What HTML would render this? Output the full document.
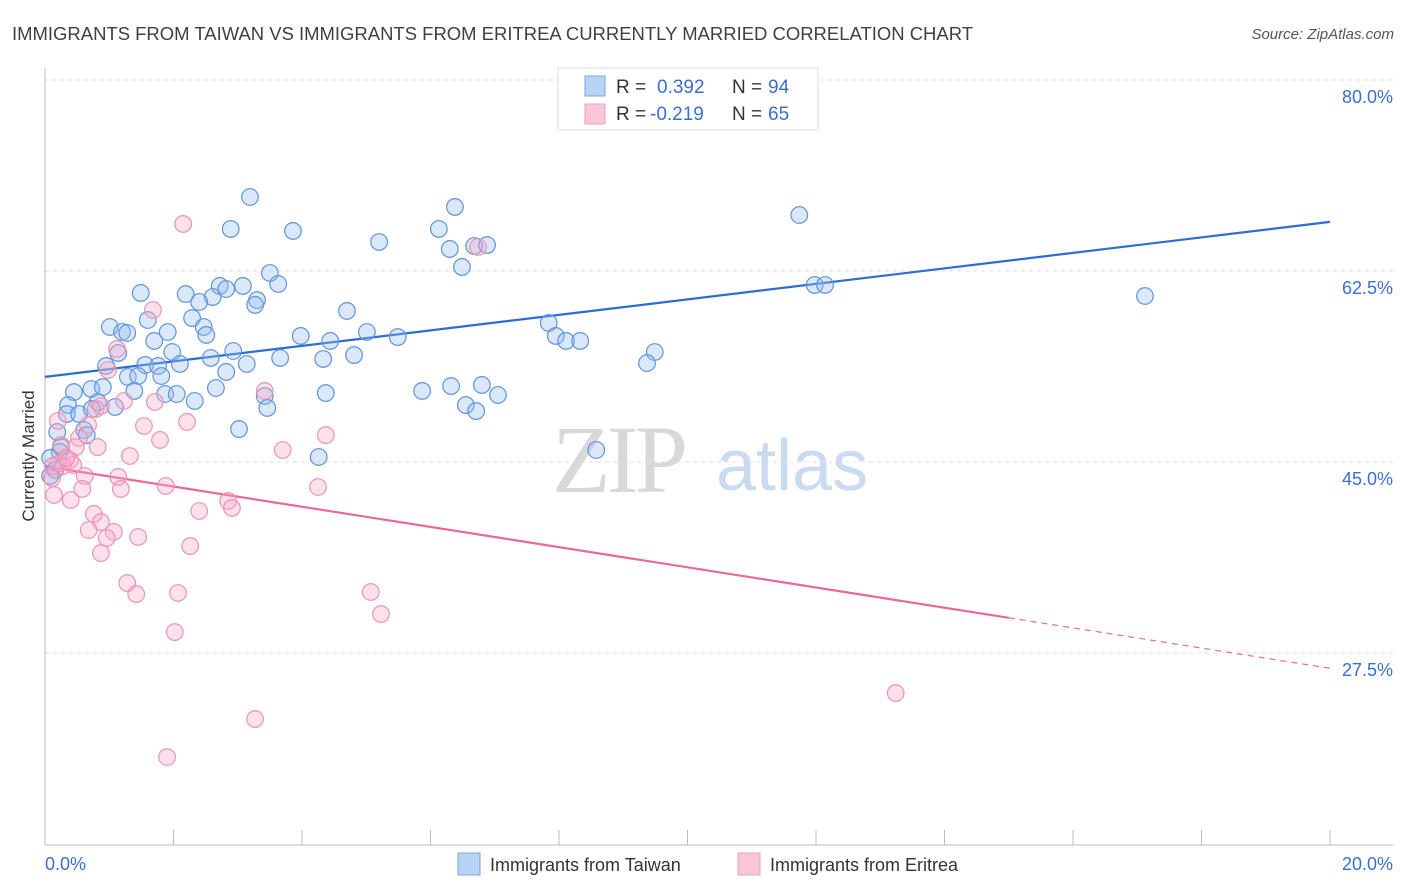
<!DOCTYPE html>
<html><head><meta charset="utf-8"><style>
html,body{margin:0;padding:0;background:#fff;width:1406px;height:892px;overflow:hidden;font-family:"Liberation Sans",sans-serif;}
</style></head><body>
<svg id="chart" width="1406" height="892" xmlns="http://www.w3.org/2000/svg" font-family="Liberation Sans, sans-serif">
<text x="12" y="40" font-size="18" fill="#404040" textLength="961" lengthAdjust="spacingAndGlyphs">IMMIGRANTS FROM TAIWAN VS IMMIGRANTS FROM ERITREA CURRENTLY MARRIED CORRELATION CHART</text>
<text x="1394" y="39" font-size="15" fill="#555" font-style="italic" text-anchor="end">Source: ZipAtlas.com</text>
<g>
<text x="552" y="492" font-size="96" font-family="Liberation Serif, serif" fill="#d8d8d8" letter-spacing="-4">ZIP</text>
<text x="716" y="490" font-size="72" fill="#c9daf1">atlas</text>
</g>
<g id="grid"></g>
<g id="axes"></g>
<g id="lines"></g>
<g id="pts"></g>
<text transform="translate(34,456) rotate(-90)" font-size="17" fill="#333" text-anchor="middle">Currently Married</text>
<g>
<rect x="558" y="68" width="260" height="62" fill="#fff" stroke="#ddd"/>
<rect x="585" y="76" width="20" height="20" fill="#b9d3f5" stroke="#7aa5e0"/>
<rect x="585" y="104" width="20" height="20" fill="#f9c6d6" stroke="#eda0ba"/>
<text x="616" y="93" font-size="19" fill="#333">R =</text>
<text x="657" y="93" font-size="19" fill="#3a6fd0">0.392</text>
<text x="732" y="93" font-size="19" fill="#333">N =</text>
<text x="768" y="93" font-size="19" fill="#3a6fd0">94</text>
<text x="616" y="120" font-size="19" fill="#333">R =</text>
<text x="650" y="120" font-size="19" fill="#3a6fd0">-0.219</text>
<text x="732" y="120" font-size="19" fill="#333">N =</text>
<text x="768" y="120" font-size="19" fill="#3a6fd0">65</text>
</g>
<g>
<rect x="458" y="853" width="22" height="22" fill="#b9d3f5" stroke="#7aa5e0"/>
<text x="490" y="871" font-size="18" fill="#333">Immigrants from Taiwan</text>
<rect x="738" y="853" width="22" height="22" fill="#f9c6d6" stroke="#eda0ba"/>
<text x="770" y="871" font-size="18" fill="#333">Immigrants from Eritrea</text>
</g>
</svg>
<script>
const yTicks=[80,62.5,45,27.5];
const xTickLabels=["0.0%","20.0%"];
const blueX=[3.19,6.38,2.89,3.86,5.20,6.13,6.30,6.68,6.88,6.49,11.74,3.50,2.72,3.08,3.63,2.82,1.49,2.19,2.61,2.40,3.30,3.27,4.70,2.29,1.60,1.01,1.20,1.28,1.91,2.47,2.51,3.98,4.44,5.01,5.49,1.70,7.84,7.95,8.11,8.33,11.98,12.14,17.12,1.14,1.98,2.58,2.93,3.66,4.33,4.81,9.49,9.37,0.95,1.56,2.10,1.76,3.14,1.29,1.45,1.81,2.82,0.45,0.72,0.90,1.39,1.87,2.05,2.33,2.66,4.37,5.87,6.32,6.80,7.05,3.42,3.46,6.55,6.71,0.36,0.82,0.34,0.53,1.09,0.73,0.19,0.61,0.65,3.02,0.25,0.23,4.26,8.58,0.08,0.16,0.08];
const blueY=[69.28,68.37,66.35,66.17,65.16,66.35,64.52,64.79,64.88,62.87,67.63,62.32,61.13,61.13,61.31,60.85,60.49,60.39,60.12,59.66,59.84,59.39,58.84,58.19,58.01,57.37,56.91,56.82,56.91,57.37,56.64,56.55,56.09,56.91,56.45,56.09,57.74,56.55,56.09,56.09,61.22,61.22,60.21,54.99,55.08,54.53,55.17,54.53,54.44,54.80,55.08,54.07,53.80,53.89,53.98,53.80,53.98,52.79,52.88,52.88,53.25,51.41,51.69,51.87,51.51,51.23,51.23,50.59,51.78,51.32,51.51,51.96,52.06,51.14,51.05,49.95,50.22,49.67,50.22,50.50,49.40,49.40,50.04,49.86,47.75,47.93,47.47,48.02,46.37,45.92,45.46,46.10,45.37,44.27,43.72];
const pinkX=[2.15,6.74,1.68,1.12,0.98,3.42,1.71,1.23,0.79,0.87,0.20,1.54,2.21,1.79,4.37,0.53,0.82,0.48,3.70,1.32,0.39,0.20,0.28,0.44,0.12,0.11,0.62,1.14,1.88,4.25,0.58,1.18,0.14,0.40,2.85,2.91,2.40,0.76,0.87,1.07,0.68,0.96,1.45,2.26,0.87,1.28,1.42,2.07,5.07,5.23,2.02,13.24,3.27,1.90,0.25,0.33,0.67];
const pinkY=[66.81,64.70,58.93,55.35,53.43,51.51,50.50,50.59,49.86,50.13,48.76,48.30,48.67,47.02,47.47,47.20,46.37,46.37,46.10,45.55,45.18,44.82,44.63,44.73,44.63,43.53,43.72,43.63,42.80,42.71,42.53,42.53,41.98,41.52,41.43,40.79,40.51,40.24,39.50,38.59,38.77,38.04,38.13,37.30,36.66,33.91,32.90,33.00,33.09,31.07,29.42,23.83,21.45,17.97,46.56,45.37,48.39];
const blueTrend=[52.8,67.0];
const pinkTrend=[44.6,26.1];
const pinkSolidEnd=15;

const NS="http://www.w3.org/2000/svg";
const X=v=>45+v/20*1285;
const Y=v=>462-(v-45)*191/17.5;
function mk(tag,attrs,parent){const e=document.createElementNS(NS,tag);for(const k in attrs)e.setAttribute(k,attrs[k]);document.getElementById(parent).appendChild(e);return e;}
yTicks.forEach(t=>{
  const g=mk('line',{x1:45,x2:1393,y1:Y(t),y2:Y(t),stroke:'#ddd','stroke-dasharray':'4,4'},'grid');
  
  
  const l=mk('text',{x:1393,y:Y(t)+23,'font-size':18,fill:'#3a6fd0','text-anchor':'end'},'axes');
  l.textContent=t.toFixed(1)+'%';
  
  
});
const ax=mk('line',{x1:45,x2:1393,y1:845,y2:845,stroke:'#bbb'},'axes');


const ay=mk('line',{x1:45,x2:45,y1:68,y2:845,stroke:'#bbb'},'axes');


for(let i=0;i<=10;i++){
  const t=mk('line',{x1:X(i*2),x2:X(i*2),y1:845,y2:830,stroke:'#bbb'},'axes');
  
  
}
const xl0=mk('text',{x:45,y:870,'font-size':18,fill:'#3a6fd0'},'axes');xl0.textContent=xTickLabels[0];


const xl1=mk('text',{x:1393,y:870,'font-size':18,fill:'#3a6fd0','text-anchor':'end'},'axes');xl1.textContent=xTickLabels[1];



blueX.forEach((x,i)=>{
  const c=mk('circle',{cx:X(x),cy:Y(blueY[i]),r:8.3,fill:'rgba(150,190,240,0.35)',stroke:'#5f93dc','stroke-width':1.2},'pts');
  
  
});
pinkX.forEach((x,i)=>{
  const c=mk('circle',{cx:X(x),cy:Y(pinkY[i]),r:8.3,fill:'rgba(245,170,200,0.35)',stroke:'#eb93b3','stroke-width':1.2},'pts');
  
  
});
const bl=mk('line',{x1:X(0),y1:Y(blueTrend[0]),x2:X(20),y2:Y(blueTrend[1]),stroke:'#2a6dd6','stroke-width':2.2},'lines');


const ps=pinkTrend[0]+(pinkTrend[1]-pinkTrend[0])*pinkSolidEnd/20;
const pl=mk('line',{x1:X(0),y1:Y(pinkTrend[0]),x2:X(pinkSolidEnd),y2:Y(ps),stroke:'#e8689a','stroke-width':2.2},'lines');


const pd=mk('line',{x1:X(pinkSolidEnd),y1:Y(ps),x2:X(20),y2:Y(pinkTrend[1]),stroke:'#e8689a','stroke-width':1.2,'stroke-dasharray':'6,5'},'lines');


</script>
</body></html>
